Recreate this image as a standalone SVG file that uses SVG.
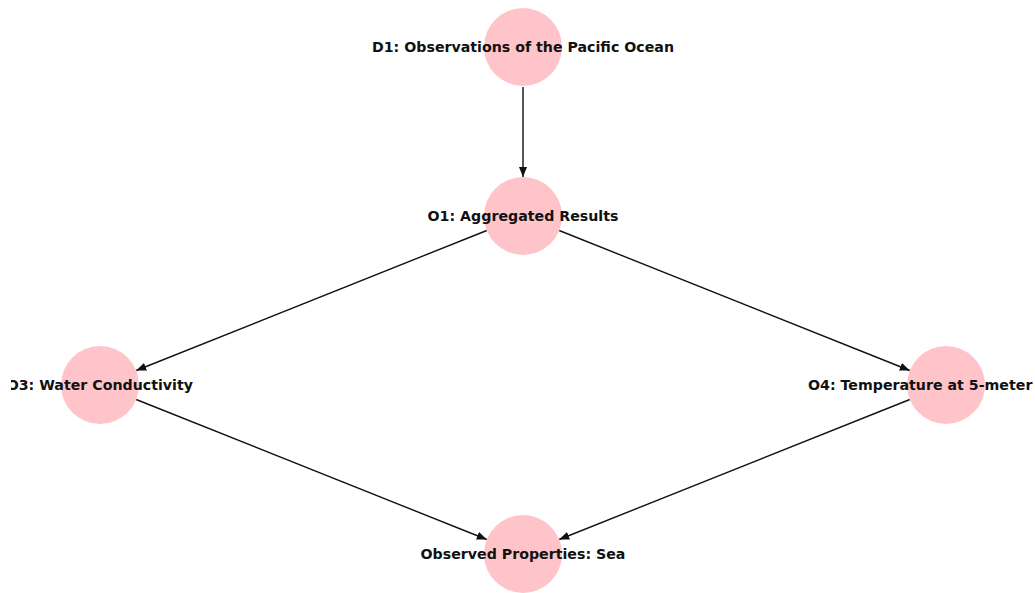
<svg xmlns="http://www.w3.org/2000/svg" width="1035" height="593" viewBox="0 0 1035 593">
<style>
.node{fill:#ffc4ca}
.lbl{font-family:"DejaVu Sans",sans-serif;font-weight:bold;font-size:14.2px;fill:#111;text-anchor:middle;dominant-baseline:central}
.edge{stroke:#111;stroke-width:1.4;fill:none;marker-end:url(#arr)}
</style>
<defs>
<marker id="arr" viewBox="0 0 10 8" refX="10" refY="4" markerWidth="10" markerHeight="8" markerUnits="userSpaceOnUse" orient="auto">
<path d="M0,0 L10,4 L0,8 Z" fill="#111"/>
</marker>
<clipPath id="clipL"><rect x="11" y="0" width="1024" height="593"/></clipPath>
</defs>
<rect width="1035" height="593" fill="#fff"/>
<g id="connectors">
<line class="edge" x1="523" y1="87" x2="523" y2="177"/>
<line class="edge" x1="486.8" y1="230.5" x2="136.2" y2="370.5"/>
<line class="edge" x1="559.2" y1="230.5" x2="909.8" y2="370.5"/>
<line class="edge" x1="136.2" y1="399.5" x2="486.8" y2="539.5"/>
<line class="edge" x1="909.8" y1="399.5" x2="559.2" y2="539.5"/>
</g>
<g id="D1"><circle class="node" cx="523" cy="47" r="39"/><text class="lbl" x="523" y="47">D1: Observations of the Pacific Ocean</text></g>
<g id="O1"><circle class="node" cx="523" cy="216" r="39"/><text class="lbl" x="523" y="216">O1: Aggregated Results</text></g>
<g id="O3" clip-path="url(#clipL)"><circle class="node" cx="100" cy="385" r="39"/><text class="lbl" x="193" y="385" style="text-anchor:end">O3: Water Conductivity</text></g>
<g id="O4"><circle class="node" cx="946" cy="385" r="39"/><text class="lbl" x="808" y="385" style="text-anchor:start">O4: Temperature at 5-meter</text></g>
<g id="Sea"><circle class="node" cx="523" cy="554" r="39"/><text class="lbl" x="523" y="554">Observed Properties: Sea</text></g>
</svg>
